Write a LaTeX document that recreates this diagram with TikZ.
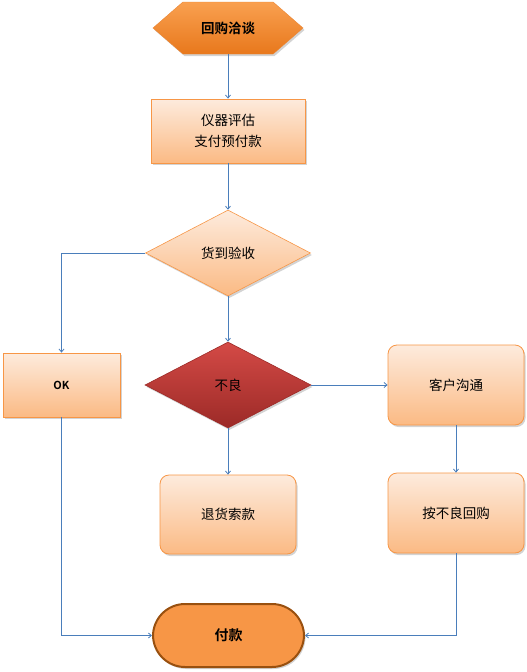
\documentclass[tikz,border=0pt]{standalone}
\usepackage{fontspec}
\setmainfont{Noto Sans CJK SC}[BoldFont={Noto Sans CJK SC Bold}]
\usetikzlibrary{shapes.geometric,shapes.symbols,shapes.misc,arrows.meta,shadows}
\definecolor{lineblue}{HTML}{4A7EBB}
\definecolor{boxborder}{HTML}{F79646}
\definecolor{boxtop}{HTML}{FDEBDD}
\definecolor{boxbot}{HTML}{FBBA84}
\definecolor{hextop}{HTML}{F9A050}
\definecolor{hexbot}{HTML}{E8781C}
\definecolor{redtop}{HTML}{D44A46}
\definecolor{redbot}{HTML}{9C2A27}
\definecolor{termfill}{HTML}{F79646}
\definecolor{termborder}{HTML}{99500F}
\tikzset{
  txt/.style={font=\fontsize{13.5}{21}\selectfont, align=center, text=black},
  shd/.style={drop shadow={shadow xshift=1.5pt, shadow yshift=-2pt, opacity=0.35, fill=black!50}},
  boxsq/.style={txt, shd, rectangle, draw=boxborder, line width=0.8pt, top color=boxtop, bottom color=boxbot, inner sep=0pt},
  boxrd/.style={boxsq, rounded corners=9pt},
  hexa/.style={txt, shd, signal, signal to=west and east, signal pointer angle=82, top color=hextop, bottom color=hexbot, draw=hexbot!90!white, line width=0.4pt, minimum width=150pt, minimum height=52pt, inner sep=0pt, font=\fontsize{13.5}{16}\selectfont\bfseries},
  dia/.style={txt, shd, diamond, inner sep=0pt, minimum width=165pt, minimum height=86pt, draw=boxborder, line width=0.6pt, top color=boxtop, bottom color=boxbot},
  reddia/.style={dia, draw=redbot, top color=redtop, bottom color=redbot},
  term/.style={txt, shd, rectangle, rounded corners=32pt, fill=termfill, draw=termborder, line width=2pt, minimum width=151pt, minimum height=63pt, font=\fontsize{14}{16}\selectfont\bfseries},
  conn/.style={draw=lineblue, line width=0.8pt, -{Straight Barb[length=3pt,width=5pt]}}
}
\begin{document}
\begin{tikzpicture}[x=1pt,y=-1pt]
\useasboundingbox (0,0) rectangle (527,672);
\node[hexa] (start) at (228,28) {回购洽谈};
\node[boxsq, minimum width=154pt, minimum height=64pt] (eval) at (228,131) {仪器评估\\支付预付款};
\node[dia] (check) at (228,253) {货到验收};
\node[boxsq, minimum width=117pt, minimum height=64pt, font=\fontsize{11}{13}\selectfont\bfseries] (ok) at (61.5,385) {OK};
\node[reddia, minimum width=166pt] (bad) at (228,385) {不良};
\node[boxrd, minimum width=136pt, minimum height=80pt] (talk) at (456,385) {客户沟通};
\node[boxrd, minimum width=136pt, minimum height=79pt] (refund) at (228,514.5) {退货索款};
\node[boxrd, minimum width=136pt, minimum height=80pt] (buyback) at (456,513) {按不良回购};
\node[term] (pay) at (228.5,635.5) {付款};

\draw[conn] (start.south) -- (eval.north);
\draw[conn] (eval.south) -- (check.north);
\draw[conn] (check.west) -| (ok.north);
\draw[conn] (check.south) -- (bad.north);
\draw[conn] (bad.east) -- (talk.west);
\draw[conn] (bad.south) -- (refund.north);
\draw[conn] (talk.south) -- (buyback.north);
\draw[conn] (ok.south) |- (pay.west);
\draw[conn] (buyback.south) |- (pay.east);
\end{tikzpicture}
\end{document}
